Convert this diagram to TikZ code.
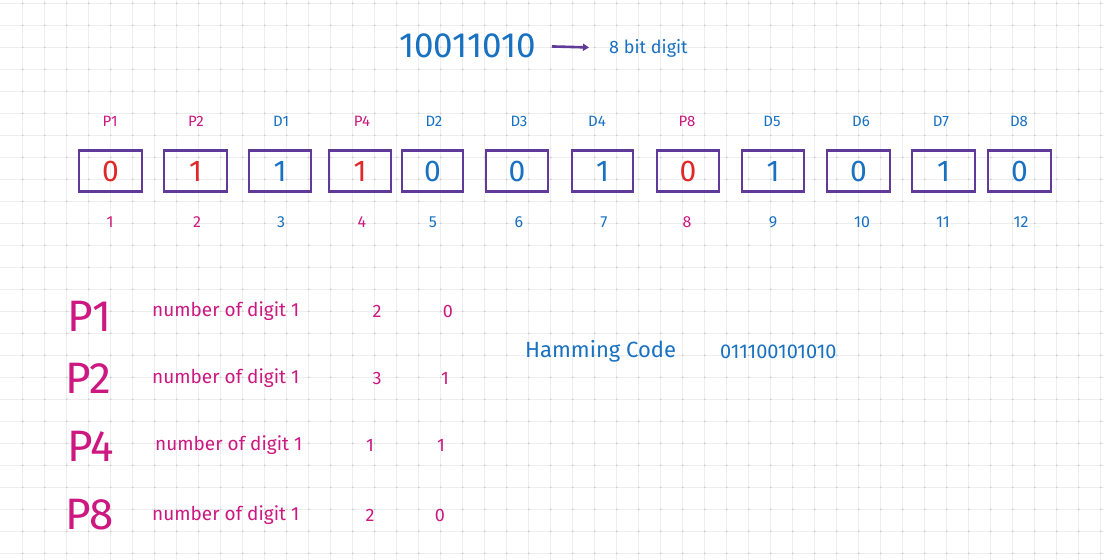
\documentclass[tikz,border=0pt]{standalone}
\usepackage{fontspec}
\setmainfont{Fira Sans}
\usetikzlibrary{arrows.meta}
\definecolor{pinkc}{RGB}{204,24,128}
\definecolor{bluec}{RGB}{25,113,194}
\definecolor{redc}{RGB}{224,40,40}
\definecolor{purc}{RGB}{95,58,153}
\definecolor{gridc}{RGB}{238,238,238}
\definecolor{dotc}{RGB}{205,205,205}
\begin{document}
\begin{tikzpicture}[x=1pt,y=-1pt,
  bitbox/.style={draw=purc,line width=2.4pt,minimum width=61pt,minimum height=41pt,inner sep=0pt,font=\fontsize{30}{30}\selectfont},
  toplbl/.style={inner sep=0pt,font=\fontsize{15}{15}\selectfont},
  poslbl/.style={inner sep=0pt,font=\fontsize{16}{16}\selectfont},
  bigp/.style={inner sep=0pt,anchor=west,text=pinkc,font=\fontsize{44}{44}\selectfont},
  rowtxt/.style={inner sep=0pt,anchor=west,text=pinkc,font=\fontsize{19}{19}\selectfont},
  cnt/.style={inner sep=0pt,text=pinkc,font=\fontsize{18}{18}\selectfont},
  arr/.style={draw=purc,line width=2.6pt,-{Triangle[length=6pt,width=7pt]}}
]
\useasboundingbox (0,0) rectangle (1104,560);
\fill[white] (0,0) rectangle (1104,560);
% grid
\foreach \i in {0,...,49} {
  \draw[gridc,line width=0.8pt] ({22.7+22*\i},0) -- ({22.7+22*\i},560);
}
\foreach \j in {0,...,25} {
  \draw[gridc,line width=0.8pt] (0,{3.3+22*\j}) -- (1104,{3.3+22*\j});
}
\foreach \i in {0,...,49} {
  \foreach \j in {0,...,25} {
    \fill[dotc] ({22.7+22*\i},{3.3+22*\j}) circle (1pt);
  }
}
% title
\node[inner sep=0pt,text=bluec,font=\fontsize{35}{35}\selectfont] (title) at (467.5,46) {10011010};
\node[inner sep=0pt,text=bluec,font=\fontsize{18}{18}\selectfont,anchor=west] (bitlbl) at (609,48) {8 bit digit};
\draw[arr,shorten <=16pt,shorten >=20pt] (title.east) -- (bitlbl.west);
% boxes
\foreach \n/\l/\r/\d/\dc/\lab/\lc/\lx/\px/\pc in {
  1/79/142/0/redc/P1/pinkc/110/110/pinkc,
  2/164/227/1/redc/P2/pinkc/196/197/pinkc,
  3/249/311/1/bluec/D1/bluec/281/281/bluec,
  4/329/391/1/redc/P4/pinkc/362/362/pinkc,
  5/402/463/0/bluec/D2/bluec/434/433/bluec,
  6/486/548/0/bluec/D3/bluec/519/519/bluec,
  7/572/633/1/bluec/D4/bluec/597/604/bluec,
  8/657/719/0/redc/P8/pinkc/687/687/pinkc,
  9/742/804/1/bluec/D5/bluec/772/773/bluec,
  10/827/890/0/bluec/D6/bluec/861/862/bluec,
  11/912/975/1/bluec/D7/bluec/941/943/bluec,
  12/988/1051/0/bluec/D8/bluec/1019/1021/bluec} {
  \node[bitbox,text=\dc,minimum width={\r-\l}] (b\n) at ({(\l+\r)/2},171) {\d};
  \node[toplbl,text=\lc] (l\n) at (\lx,121) {\lab};
  \node[poslbl,text=\pc] (n\n) at (\px,222) {\n};
}
% parity rows
\node[bigp] (pa) at (67,316) {P1};
\node[bigp] (pb) at (65,378) {P2};
\node[bigp] (pc) at (67,446) {P4};
\node[bigp] (pd) at (65,515) {P8};
\node[rowtxt] (ra) at (152,311) {number of digit 1};
\node[rowtxt] (rb) at (152,378) {number of digit 1};
\node[rowtxt] (rc) at (155,445) {number of digit 1};
\node[rowtxt] (rd) at (152,515) {number of digit 1};
\node[cnt] (ca1) at (377,311) {2};
\node[cnt] (ca2) at (448,311) {0};
\node[cnt] (cb1) at (377,378) {3};
\node[cnt] (cb2) at (445,378) {1};
\node[cnt] (cc1) at (370,445) {1};
\node[cnt] (cc2) at (441,445) {1};
\node[cnt] (cd1) at (370,515) {2};
\node[cnt] (cd2) at (440,515) {0};
% hamming code
\node[inner sep=0pt,anchor=west,text=bluec,font=\fontsize{22}{22}\selectfont] (hc) at (525,351) {Hamming Code};
\node[inner sep=0pt,anchor=west,text=bluec,font=\fontsize{20}{20}\selectfont] (hv) at (720,352) {011100101010};
\end{tikzpicture}
\end{document}
